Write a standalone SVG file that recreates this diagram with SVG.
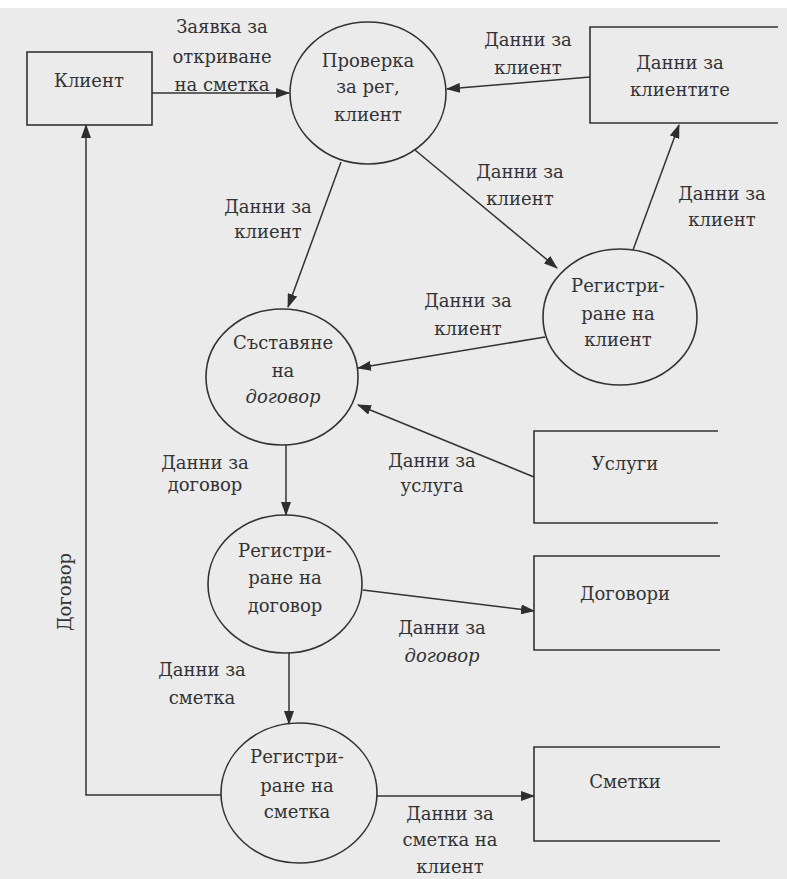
<svg xmlns="http://www.w3.org/2000/svg" width="787" height="879" viewBox="0 0 787 879">
<defs>
<marker id="arr" viewBox="0 0 14 10" markerWidth="14" markerHeight="10" refX="13" refY="5" orient="auto" markerUnits="userSpaceOnUse">
<path d="M0,0 L14,5 L0,10 z" fill="#2e2e2e"/>
</marker>
<style>
.bg{fill:#ebebeb}
.shape{fill:none;stroke:#333;stroke-width:1.6}
.line{fill:none;stroke:#333;stroke-width:1.5;marker-end:url(#arr)}
.t{font-family:"DejaVu Serif","Liberation Serif",serif;font-size:18px;fill:#333;text-anchor:middle}
.i{font-style:italic}
</style>
</defs>
<rect class="bg" x="0" y="0" width="787" height="879"/>
<rect x="0" y="0" width="787" height="8" fill="#ffffff"/>

<g id="connectors">
<line class="line" x1="152" y1="93" x2="289" y2="93"/>
<line class="line" x1="590" y1="77" x2="447" y2="89"/>
<line class="line" x1="341" y1="162" x2="288" y2="307"/>
<line class="line" x1="415" y1="150" x2="557" y2="268"/>
<line class="line" x1="633" y1="250" x2="679" y2="125"/>
<line class="line" x1="545" y1="337" x2="358" y2="368"/>
<line class="line" x1="534" y1="477" x2="358" y2="405"/>
<line class="line" x1="286" y1="445" x2="286" y2="515"/>
<line class="line" x1="363" y1="590" x2="534" y2="611"/>
<line class="line" x1="289" y1="653" x2="289" y2="724"/>
<line class="line" x1="377" y1="796" x2="534" y2="796"/>
<polyline class="line" points="221,795 86,795 86,125"/>
<g class="t">
<text class="t" x="222" y="33">Заявка за</text>
<text class="t" x="222" y="63">откриване</text>
<text class="t" x="222" y="91">на сметка</text>
<text class="t" x="528" y="46">Данни за</text>
<text class="t" x="528" y="74">клиент</text>
<text class="t" x="268" y="213">Данни за</text>
<text class="t" x="268" y="238">клиент</text>
<text class="t" x="520" y="178">Данни за</text>
<text class="t" x="520" y="205">клиент</text>
<text class="t" x="722" y="200">Данни за</text>
<text class="t" x="722" y="226">клиент</text>
<text class="t" x="468" y="307">Данни за</text>
<text class="t" x="468" y="335">клиент</text>
<text class="t" x="432" y="467">Данни за</text>
<text class="t" x="432" y="492">услуга</text>
<text class="t" x="205" y="469">Данни за</text>
<text class="t" x="205" y="491">договор</text>
<text class="t" x="442" y="634">Данни за</text>
<text class="t i" x="442" y="662">договор</text>
<text class="t" x="202" y="676">Данни за</text>
<text class="t" x="202" y="704">сметка</text>
<text class="t" x="450" y="820">Данни за</text>
<text class="t" x="450" y="846">сметка на</text>
<text class="t" x="450" y="873">клиент</text>
<text class="t" x="0" y="0" transform="translate(71,592) rotate(-90)">Договор</text>
</g>
</g>

<g id="klient">
<rect class="shape" x="27" y="52" width="125" height="73"/>
<text class="t" x="89" y="87">Клиент</text>
</g>
<g id="proverka">
<ellipse class="shape" cx="368" cy="93" rx="78" ry="71"/>
<text class="t" x="368" y="67">Проверка</text>
<text class="t" x="368" y="93">за рег,</text>
<text class="t" x="368" y="121">клиент</text>
</g>
<g id="danni-klienti">
<path class="shape" d="M778,27 H590 V123 H778"/>
<text class="t" x="680" y="69">Данни за</text>
<text class="t" x="680" y="96">клиентите</text>
</g>
<g id="reg-klient">
<ellipse class="shape" cx="620" cy="317" rx="77" ry="68"/>
<text class="t" x="618" y="292">Регистри-</text>
<text class="t" x="618" y="320">ране  на</text>
<text class="t" x="618" y="346">клиент</text>
</g>
<g id="sastavyane">
<ellipse class="shape" cx="282" cy="377" rx="76" ry="68"/>
<text class="t" x="283" y="349">Съставяне</text>
<text class="t" x="283" y="377">на</text>
<text class="t i" x="283" y="403">договор</text>
</g>
<g id="uslugi">
<path class="shape" d="M718,431 H534 V523 H718"/>
<text class="t" x="625" y="470">Услуги</text>
</g>
<g id="reg-dogovor">
<ellipse class="shape" cx="285" cy="584" rx="77" ry="69"/>
<text class="t" x="285" y="557">Регистри-</text>
<text class="t" x="285" y="584">ране на</text>
<text class="t" x="285" y="612">договор</text>
</g>
<g id="dogovori">
<path class="shape" d="M720,556 H534 V650 H720"/>
<text class="t" x="625" y="600">Договори</text>
</g>
<g id="reg-smetka">
<ellipse class="shape" cx="299" cy="793" rx="78" ry="70"/>
<text class="t" x="297" y="763">Регистри-</text>
<text class="t" x="297" y="792">ране на</text>
<text class="t" x="297" y="818">сметка</text>
</g>
<g id="smetki">
<path class="shape" d="M720,747 H534 V841 H720"/>
<text class="t" x="625" y="788">Сметки</text>
</g>
</svg>
